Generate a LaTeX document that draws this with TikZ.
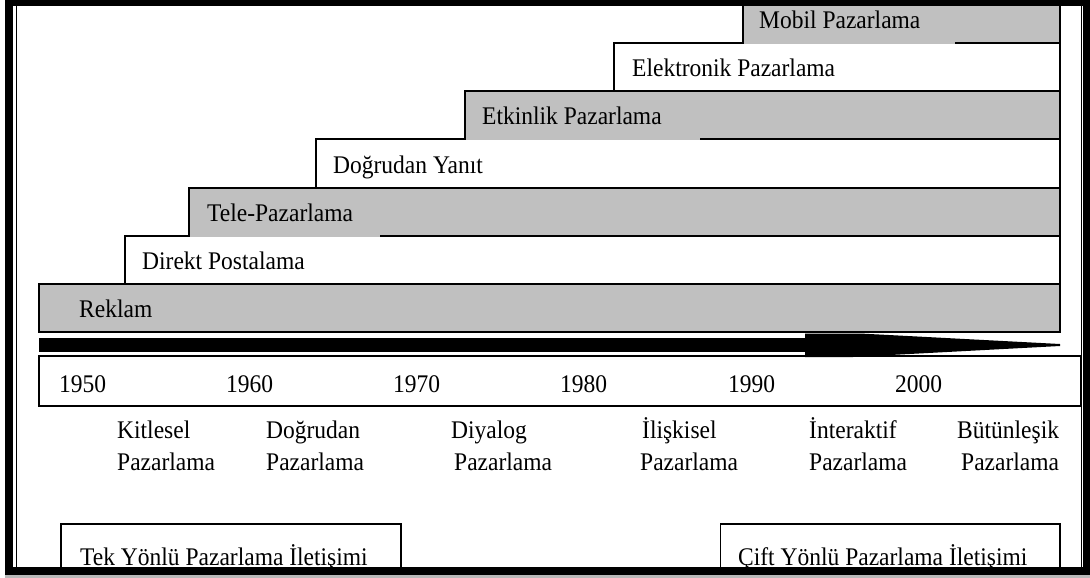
\documentclass[tikz,border=0pt]{standalone}
\usepackage{fontspec}
\setmainfont{Liberation Serif}
\definecolor{bandgray}{RGB}{192,192,192}
\newcommand{\tallt}[1]{\scalebox{1}[1.08]{#1}}
\begin{document}
\begin{tikzpicture}[x=1pt,y=-1pt,
  box/.style={draw=black,line width=1.6pt},
  graybox/.style={box,fill=bandgray},
  whitebox/.style={box,fill=white},
  lbl/.style={anchor=base west,inner sep=0pt,font=\fontsize{23.5}{28}\selectfont},
  frame/.style={fill=black},
]
\useasboundingbox (0,0) rectangle (1090,578);
\fill[white] (0,0) rectangle (1090,578);

% stacked bands, bottom to top
\draw[graybox]  (39,284)  rectangle (1060,332);
\draw[whitebox] (125,236) rectangle (1060,284);
\draw[graybox]  (189,188) rectangle (1060,236);
\fill[bandgray] (189.9,230) rectangle (380,237);
\draw[whitebox] (316,139) rectangle (1060,188);
\draw[graybox]  (465,91)  rectangle (1060,139);
\fill[bandgray] (465.9,133) rectangle (700,140);
\draw[whitebox] (614,43)  rectangle (1060,91);
\draw[graybox]  (743,-4)  rectangle (1060,43);
\fill[bandgray] (743.9,37) rectangle (955,44);

% band labels
\node[lbl] (mobil) at (759,28.5) {\tallt{Mobil Pazarlama}};
\node[lbl] (elek)  at (632,76.5) {\tallt{Elektronik Pazarlama}};
\node[lbl] (etk)   at (482,124.5) {\tallt{Etkinlik Pazarlama}};
\node[lbl] (dyan)  at (333,173.5) {\tallt{Doğrudan Yanıt}};
\node[lbl] (tele)  at (207,221.5) {\tallt{Tele-Pazarlama}};
\node[lbl] (dpost) at (142,269.5) {\tallt{Direkt Postalama}};
\node[lbl] (rek)   at (79,317.5) {\tallt{Reklam}};

% year box
\draw[whitebox] (39,356) rectangle (1081,406);

% timeline arrow
\fill[black] (39,337.5) rectangle (806,351.5);
\fill[black] (805,333.5) -- (860,333.5) -- (1060,344) -- (1060,346) -- (853,357) -- (805,357) -- cycle;

% years
\node[lbl] (y50) at (59,392) {\tallt{1950}};
\node[lbl] (y60) at (226,392) {\tallt{1960}};
\node[lbl] (y70) at (393,392) {\tallt{1970}};
\node[lbl] (y80) at (560,392) {\tallt{1980}};
\node[lbl] (y90) at (728,392) {\tallt{1990}};
\node[lbl] (y00) at (895,392) {\tallt{2000}};

% eras
\node[lbl] (e1a) at (117,438.5) {\tallt{Kitlesel}};
\node[lbl] (e1b) at (117,470) {\tallt{Pazarlama}};
\node[lbl] (e2a) at (266,438.5) {\tallt{Doğrudan}};
\node[lbl] (e2b) at (266,470) {\tallt{Pazarlama}};
\node[lbl] (e3a) at (451,438.5) {\tallt{Diyalog}};
\node[lbl] (e3b) at (454,470) {\tallt{Pazarlama}};
\node[lbl] (e4a) at (642,438.5) {\tallt{İlişkisel}};
\node[lbl] (e4b) at (640,470) {\tallt{Pazarlama}};
\node[lbl] (e5a) at (809,438.5) {\tallt{İnteraktif}};
\node[lbl] (e5b) at (809,470) {\tallt{Pazarlama}};
\node[lbl] (e6a) at (957,438.5) {\tallt{Bütünleşik}};
\node[lbl] (e6b) at (961,470) {\tallt{Pazarlama}};

% bottom boxes
\draw[box] (61,524) rectangle (401,572);
\draw[box] (720.5,524) rectangle (1060,572);
\node[lbl] (tek)  at (80,565) {\tallt{Tek Yönlü Pazarlama İletişimi}};
\node[lbl] (cift) at (738,565) {\tallt{Çift Yönlü Pazarlama İletişimi}};

% outer frame
\fill[frame] (5,0) rectangle (1090,6);
\fill[frame] (5,0) rectangle (13,574.5);
\fill[frame] (1083,0) rectangle (1090,574.5);
\fill[frame] (5,567) rectangle (1090,574.5);
\fill[gray!55] (5,574.5) rectangle (1090,578);
\draw[line width=1pt] (16.7,6) -- (16.7,567);
\draw[line width=1pt] (1081,6) -- (1081,567);
\end{tikzpicture}
\end{document}
